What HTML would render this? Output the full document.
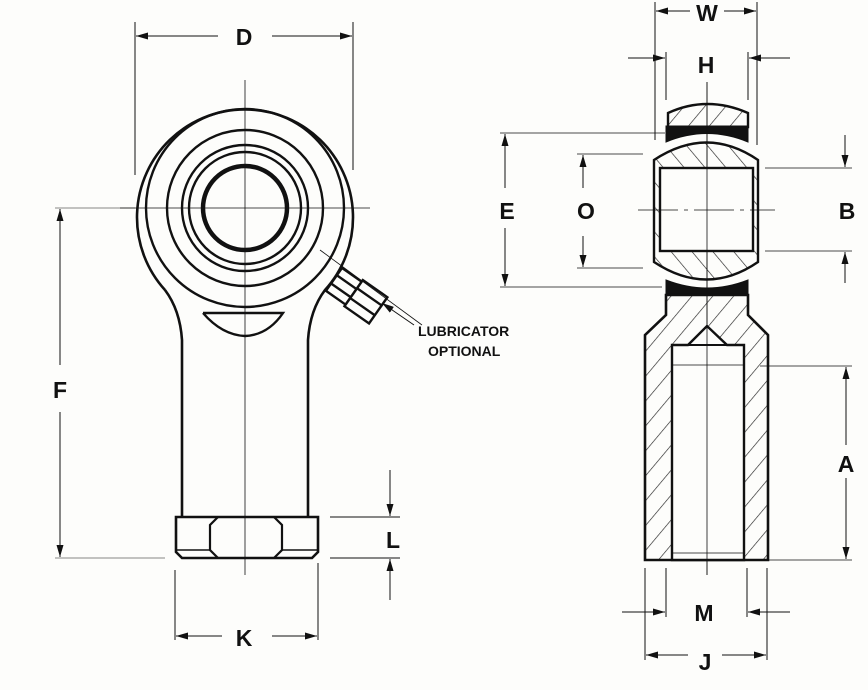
<!DOCTYPE html>
<html><head><meta charset="utf-8"><style>
html,body{margin:0;padding:0;background:#fdfdfb;}
svg{display:block;}
text{font-family:"Liberation Sans",sans-serif;font-weight:bold;fill:#111;}
</style></head><body>
<svg width="868" height="690" viewBox="0 0 868 690" xmlns="http://www.w3.org/2000/svg">
<defs>
<pattern id="h" width="16" height="16" patternUnits="userSpaceOnUse" patternTransform="rotate(40)">
<line x1="0" y1="0" x2="0" y2="16" stroke="#222" stroke-width="1.3"/></pattern>
<pattern id="h2" width="16" height="16" patternUnits="userSpaceOnUse" patternTransform="rotate(-40)">
<line x1="0" y1="0" x2="0" y2="16" stroke="#222" stroke-width="1.3"/></pattern>
<marker id="a" markerWidth="12" markerHeight="7" refX="12" refY="3.5" orient="auto" markerUnits="userSpaceOnUse"><path d="M0,0 L12,3.5 L0,7 z" fill="#111"/></marker>
</defs>
<g fill="none" stroke="#111" stroke-width="1">
<!-- LEFT VIEW -->
<line x1="245" y1="80" x2="245" y2="575" stroke-width="0.8"/>
<line x1="120" y1="208" x2="370" y2="208" stroke-width="0.8"/>
<line x1="55" y1="208" x2="135" y2="208" stroke-width="0.6"/>
<line x1="135" y1="22" x2="135" y2="175"/>
<line x1="353" y1="22" x2="353" y2="170"/>
<line x1="218" y1="36" x2="136" y2="36" marker-end="url(#a)"/>
<line x1="272" y1="36" x2="352" y2="36" marker-end="url(#a)"/>
<path d="M165,290 A108,108 0 1 1 325,290 Q310,310 308,340 L308,517 M182,517 L182,340 Q180,310 165,290" stroke-width="2.6"/>
<circle cx="245" cy="208" r="99" stroke-width="2.4"/>
<circle cx="245" cy="208" r="78" stroke-width="2.4"/>
<circle cx="245" cy="208" r="63" stroke-width="2.4"/>
<circle cx="245" cy="208" r="56" stroke-width="2.4"/>
<circle cx="245" cy="208" r="42" stroke-width="4.5"/>
<path d="M203,313 L283,313 Q268,335 245,336 Q222,335 203,313" stroke-width="2.4"/>
<g transform="translate(352,292) rotate(35)" stroke-width="2.4">
<rect x="-22" y="-14" width="24" height="28" fill="#fdfdfb"/>
<rect x="2" y="-16" width="30" height="32" fill="#fdfdfb"/>
<line x1="-22" y1="-5" x2="2" y2="-5"/><line x1="-22" y1="5" x2="2" y2="5"/>
<line x1="2" y1="-6" x2="32" y2="-6"/><line x1="2" y1="6" x2="32" y2="6"/>
</g>
<line x1="320" y1="250" x2="422" y2="325" stroke-width="0.8"/>
<line x1="414" y1="325" x2="382" y2="303" marker-end="url(#a)" stroke-width="1"/>
<path d="M176,517 L318,517 L318,552 L312,558 L182,558 L176,552 Z" stroke-width="2.6"/>
<path d="M218,517 L210,525 L210,550 L218,558 M274,517 L282,525 L282,550 L274,558" stroke-width="2.2"/>
<line x1="176" y1="550" x2="210" y2="550" stroke-width="1.5"/>
<line x1="282" y1="550" x2="318" y2="550" stroke-width="1.5"/>
<line x1="60" y1="365" x2="60" y2="209" marker-end="url(#a)"/>
<line x1="60" y1="412" x2="60" y2="557" marker-end="url(#a)"/>
<line x1="55" y1="558" x2="165" y2="558" stroke-width="0.6"/>
<line x1="330" y1="517" x2="400" y2="517"/>
<line x1="330" y1="558" x2="400" y2="558"/>
<line x1="390" y1="470" x2="390" y2="516" marker-end="url(#a)"/>
<line x1="390" y1="600" x2="390" y2="559" marker-end="url(#a)"/>
<line x1="175" y1="570" x2="175" y2="640"/>
<line x1="318" y1="563" x2="318" y2="640"/>
<line x1="222" y1="636" x2="176" y2="636" marker-end="url(#a)"/>
<line x1="272" y1="636" x2="317" y2="636" marker-end="url(#a)"/>

<!-- RIGHT VIEW -->
<line x1="707" y1="82" x2="707" y2="575" stroke-width="0.8"/>
<path d="M668,127 L668,113 Q707,95 748,113 L748,127 Z" fill="url(#h)" stroke-width="2.4"/>
<path d="M666,142 L666,126 L748,126 L748,142 Q707,125 666,142 Z" fill="#111" stroke-width="1"/>
<path d="M666,280 Q707,296 748,280 L748,295 L666,295 Z" fill="#111"/>
<path d="M654,160 Q707,125 758,160 L758,262 Q707,297 654,262 Z" fill="url(#h2)" stroke-width="2.4"/>
<rect x="660" y="168" width="93" height="83" fill="#fdfdfb" stroke-width="2.4"/>
<line x1="638" y1="210" x2="775" y2="210" stroke-width="0.8" stroke-dasharray="40,6,4,6"/>
<line x1="707" y1="82" x2="707" y2="300" stroke-width="0.8"/>
<path d="M666,295 L748,295 L748,315 L768,335 L768,560 L645,560 L645,335 L666,315 Z" fill="url(#h)" stroke-width="2.6"/>
<path d="M672,560 L672,345 L688,345 L707,326 L727,345 L744,345 L744,560 Z" fill="#fdfdfb" stroke-width="2.4"/>
<line x1="688" y1="345" x2="727" y2="345" stroke-width="2"/>
<line x1="672" y1="365" x2="744" y2="365" stroke-width="0.8"/>
<line x1="672" y1="553" x2="744" y2="553" stroke-width="0.8"/>
<line x1="707" y1="300" x2="707" y2="575" stroke-width="0.8"/>
<line x1="655" y1="2" x2="655" y2="140"/>
<line x1="757" y1="2" x2="757" y2="145"/>
<line x1="690" y1="11" x2="656" y2="11" marker-end="url(#a)"/>
<line x1="724" y1="11" x2="756" y2="11" marker-end="url(#a)"/>
<line x1="666" y1="52" x2="666" y2="100"/>
<line x1="748" y1="52" x2="748" y2="100"/>
<line x1="628" y1="58" x2="665" y2="58" marker-end="url(#a)"/>
<line x1="790" y1="58" x2="749" y2="58" marker-end="url(#a)"/>
<line x1="500" y1="133" x2="665" y2="133" stroke-width="0.8"/>
<line x1="500" y1="287" x2="662" y2="287" stroke-width="0.8"/>
<line x1="505" y1="188" x2="505" y2="134" marker-end="url(#a)"/>
<line x1="505" y1="228" x2="505" y2="286" marker-end="url(#a)"/>
<line x1="577" y1="154" x2="643" y2="154" stroke-width="0.8"/>
<line x1="577" y1="268" x2="643" y2="268" stroke-width="0.8"/>
<line x1="583" y1="188" x2="583" y2="155" marker-end="url(#a)"/>
<line x1="583" y1="236" x2="583" y2="267" marker-end="url(#a)"/>
<line x1="765" y1="168" x2="852" y2="168" stroke-width="0.8"/>
<line x1="765" y1="251" x2="852" y2="251" stroke-width="0.8"/>
<line x1="845" y1="135" x2="845" y2="167" marker-end="url(#a)"/>
<line x1="845" y1="283" x2="845" y2="252" marker-end="url(#a)"/>
<line x1="760" y1="366" x2="852" y2="366" stroke-width="0.8"/>
<line x1="645" y1="560" x2="852" y2="560" stroke-width="0.8"/>
<line x1="846" y1="445" x2="846" y2="367" marker-end="url(#a)"/>
<line x1="846" y1="478" x2="846" y2="559" marker-end="url(#a)"/>
<line x1="645" y1="568" x2="645" y2="660"/>
<line x1="767" y1="568" x2="767" y2="660"/>
<line x1="666" y1="568" x2="666" y2="617"/>
<line x1="747" y1="568" x2="747" y2="617"/>
<line x1="622" y1="612" x2="665" y2="612" marker-end="url(#a)"/>
<line x1="790" y1="612" x2="748" y2="612" marker-end="url(#a)"/>
<line x1="688" y1="655" x2="646" y2="655" marker-end="url(#a)"/>
<line x1="722" y1="655" x2="766" y2="655" marker-end="url(#a)"/>
</g>
<g font-size="23" text-anchor="middle">
<text x="244" y="45">D</text>
<text x="60" y="398">F</text>
<text x="393" y="548">L</text>
<text x="244" y="646">K</text>
<text x="707" y="21">W</text>
<text x="706" y="73">H</text>
<text x="507" y="219">E</text>
<text x="586" y="219">O</text>
<text x="847" y="219">B</text>
<text x="846" y="472">A</text>
<text x="704" y="621">M</text>
<text x="705" y="670">J</text>
</g>
<g font-size="14" text-anchor="start">
<text x="418" y="336">LUBRICATOR</text>
<text x="428" y="356">OPTIONAL</text>
</g>
</svg>
</body></html>
